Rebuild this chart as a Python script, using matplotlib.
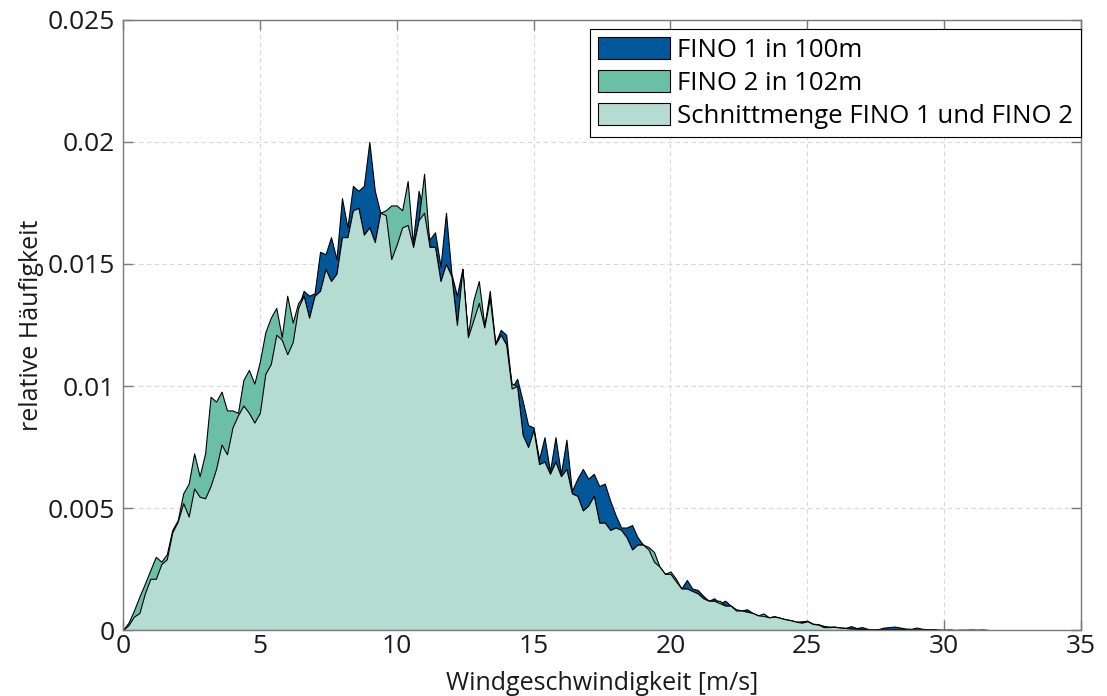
import numpy as np
import matplotlib
matplotlib.use("Agg")
import matplotlib.pyplot as plt
from matplotlib.patches import Patch

plt.rcParams['font.family'] = ['Open Sans', 'DejaVu Sans']

# wind speed bins [m/s]
wind_speed = np.round(np.arange(0, 31.8, 0.2), 1)

# relative frequency FINO 1 (100 m)
fino1 = [
    0.0, 0.0002, 0.00055, 0.0007, 0.0015, 0.0021, 0.0021, 0.0027, 0.0029, 0.0040,
    0.00444, 0.0052, 0.00465, 0.0058, 0.00546, 0.0054, 0.0059, 0.0066, 0.0076, 0.0072,
    0.0083, 0.0088, 0.0092, 0.0089, 0.0085, 0.0089, 0.0105, 0.0109, 0.0121, 0.0119,
    0.0113, 0.0118, 0.0132, 0.0139, 0.0137, 0.0138, 0.0155, 0.0154, 0.0161, 0.0152,
    0.0177, 0.0165, 0.0182, 0.0180, 0.0182, 0.0200, 0.0180, 0.0171, 0.0170, 0.0152,
    0.0158, 0.0165, 0.0166, 0.0160, 0.0180, 0.0171, 0.0160, 0.0163, 0.0149, 0.0171,
    0.0146, 0.0137, 0.0148, 0.0120, 0.0127, 0.0134, 0.0124, 0.0139, 0.01175, 0.0123,
    0.0121, 0.0099, 0.0103, 0.0094, 0.0084, 0.0083, 0.0070, 0.0079, 0.0065, 0.0079,
    0.0064, 0.0078, 0.0057, 0.0062, 0.0066, 0.0062, 0.0064, 0.0059, 0.0060, 0.0053,
    0.0047, 0.0042, 0.0042, 0.0043, 0.0038, 0.0035, 0.0033, 0.0028, 0.0026, 0.0023,
    0.0023, 0.0020, 0.0017, 0.00205, 0.0017, 0.00164, 0.0014, 0.0012, 0.0013, 0.0011,
    0.0012, 0.0010, 0.0008, 0.0008, 0.00085, 0.0007, 0.0006, 0.00058, 0.00052, 0.00057,
    0.0005, 0.00044, 0.0004, 0.00034, 0.00036, 0.00038, 0.00026, 0.00024, 0.00017, 0.00014,
    0.00014, 0.0001, 0.00009, 0.00016, 0.00008, 0.00012, 0.00005, 0.00002, 0.00004, 0.0001,
    0.00012, 0.00014, 0.0001, 0.00006, 0.00005, 0.0001, 0.00005, 0.00003, 0.00004, 0.00002,
    0.00001, 0.00002, 0.0, 0.00001, 0.00001, 0.00002, 0.00001, 0.00002, 0.0,
]

# relative frequency FINO 2 (102 m)
fino2 = [
    0.0, 0.0003, 0.0008, 0.00137, 0.0019, 0.00246, 0.0030, 0.0028, 0.0031, 0.0041,
    0.0045, 0.0056, 0.0060, 0.00724, 0.0063, 0.00724, 0.00956, 0.00936, 0.00977, 0.0090,
    0.0090, 0.0089, 0.01025, 0.01066, 0.0101, 0.0110, 0.0122, 0.0128, 0.0132, 0.0120,
    0.0137, 0.0126, 0.0134, 0.0137, 0.0128, 0.0137, 0.0139, 0.0148, 0.0143, 0.0146,
    0.0161, 0.0161, 0.0172, 0.0173, 0.0162, 0.0165, 0.0159, 0.0171, 0.0172, 0.0174,
    0.0174, 0.0172, 0.0184, 0.0157, 0.0168, 0.0187, 0.0157, 0.0157, 0.0143, 0.0150,
    0.0145, 0.0125, 0.0148, 0.0121, 0.0135, 0.0143, 0.0125, 0.0136, 0.0117, 0.0121,
    0.0117, 0.0101, 0.0100, 0.0080, 0.0075, 0.0082, 0.0068, 0.0069, 0.0064, 0.0069,
    0.0063, 0.0066, 0.0056, 0.0055, 0.0049, 0.0051, 0.0055, 0.0044, 0.0044, 0.0041,
    0.0042, 0.0041, 0.0038, 0.0033, 0.0035, 0.0035, 0.0034, 0.0032, 0.0026, 0.0023,
    0.0024, 0.0021, 0.0017, 0.0017, 0.0016, 0.0015, 0.0013, 0.0012, 0.0012, 0.0012,
    0.0010, 0.0010, 0.00085, 0.0008, 0.00075, 0.0007, 0.0006, 0.00068, 0.00052, 0.00055,
    0.0005, 0.00044, 0.0004, 0.00034, 0.0003, 0.00036, 0.00025, 0.00022, 0.00012, 0.00012,
    0.00013, 0.0001, 0.00008, 0.00006, 0.00005, 0.00004, 0.00003, 0.00002, 0.00002, 0.00002,
    0.00002, 0.00002, 0.00002, 0.00002, 0.00001, 0.00001, 0.00001, 0.0, 0.0, 0.0,
    0.0, 0.0, 0.0, 0.0, 0.0, 0.0, 0.0, 0.0, 0.0,
]

x_ticks = [0, 5, 10, 15, 20, 25, 30, 35]
y_ticks = [0, 0.005, 0.01, 0.015, 0.02, 0.025]
y_ticklabels = ['0', '0.005', '0.01', '0.015', '0.02', '0.025']
labels = ['FINO 1 in 100m', 'FINO 2 in 102m', 'Schnittmenge FINO 1 und FINO 2']

c_f1 = '#00589A'
c_f2 = '#6BBFA6'
c_both = '#B4DCD3'

n = min(len(wind_speed), len(fino1), len(fino2))
x = wind_speed[:n]
f1 = np.array(fino1[:n])
f2 = np.array(fino2[:n])
both = np.minimum(f1, f2)

fig = plt.figure(figsize=(11.07, 6.96), dpi=100)
ax = fig.add_axes([0.1111, 0.0948, 0.8654, 0.8765])

ax.fill_between(x, 0, f1, facecolor=c_f1, edgecolor='black', linewidth=0.8, zorder=2)
ax.fill_between(x, 0, f2, facecolor=c_f2, edgecolor='black', linewidth=0.8, zorder=3)
ax.fill_between(x, 0, both, facecolor=c_both, edgecolor='black', linewidth=0.8, zorder=4)

ax.set_xlim(0, 35)
ax.set_ylim(0, 0.025)
ax.set_xticks(x_ticks)
ax.set_yticks(y_ticks)
ax.set_yticklabels(y_ticklabels)
ax.grid(True, linestyle=(0, (4, 3)), color='#d8d8d8', linewidth=0.8, zorder=0)
ax.set_axisbelow(True)
for s in ax.spines.values():
    s.set_color('#7a7a7a')
    s.set_linewidth(1.0)
    s.set_zorder(6)
ax.tick_params(direction='in', top=True, right=True, length=7, width=1.0,
               color='#7a7a7a', labelsize=19, labelcolor='#1a1a1a')
ax.tick_params(axis='x', pad=3)
ax.tick_params(axis='y', pad=6)
ax.set_xlabel('Windgeschwindigkeit [m/s]', fontsize=18, color='#1a1a1a', va='center')
ax.xaxis.set_label_coords(0.5, -0.087)
ax.set_ylabel('relative Häufigkeit', fontsize=18, color='#1a1a1a', va='center')
ax.yaxis.set_label_coords(-0.096, 0.5)

handles = [Patch(facecolor=c, edgecolor='black', linewidth=0.8) for c in (c_f1, c_f2, c_both)]
leg = ax.legend(handles, labels, loc='upper right', bbox_to_anchor=(1.0, 1 - 9 / 610),
                fontsize=18.5, frameon=True, fancybox=False,
                edgecolor='black', framealpha=1, handlelength=2.8, handleheight=0.95,
                handletextpad=0.3, borderaxespad=0.0, labelspacing=0.28, borderpad=0.3)
leg.get_frame().set_linewidth(0.8)
leg.set_zorder(10)

fig.savefig('out.png', dpi=100)
